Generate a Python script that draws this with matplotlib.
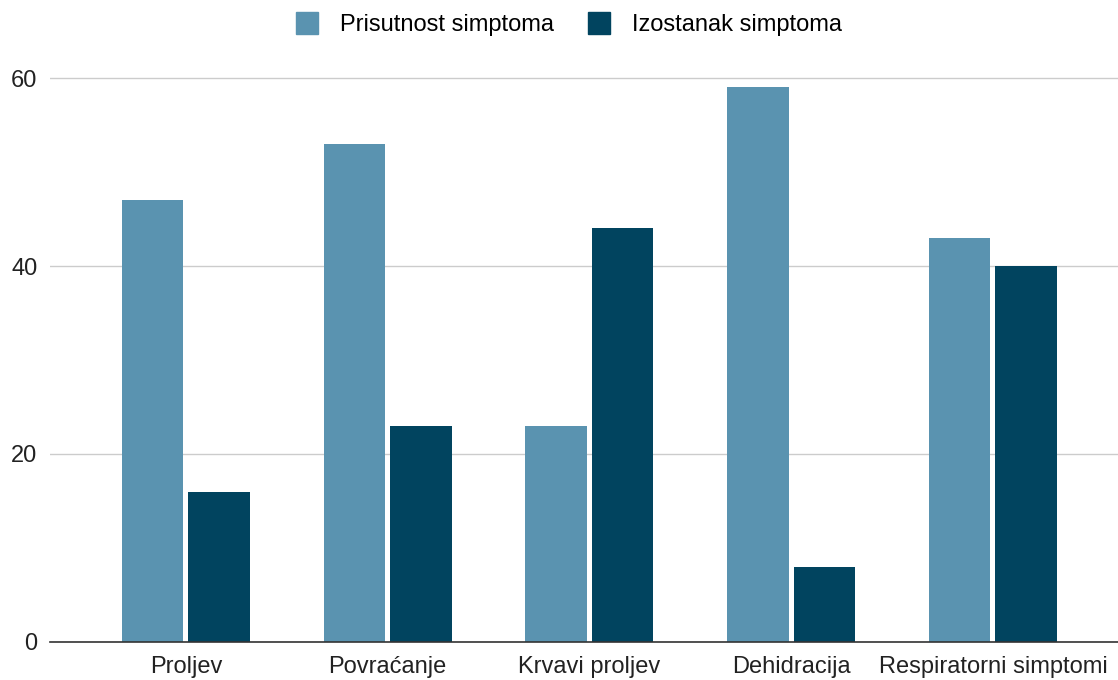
import matplotlib.pyplot as plt
import numpy as np
from matplotlib.lines import Line2D

plt.rcParams['font.family'] = ['Liberation Sans', 'DejaVu Sans']

# data
categories = ['Proljev', 'Povraćanje', 'Krvavi proljev', 'Dehidracija', 'Respiratorni simptomi']
prisutnost = [47, 53, 23, 59, 43]
izostanak = [16, 23, 44, 8, 40]
series_names = ['Prisutnost simptoma', 'Izostanak simptoma']
colors = ['#5a93b0', '#01445f']

fig = plt.figure(figsize=(11.18, 6.8), dpi=100)
ax = fig.add_axes([50 / 1118, 1 - 642 / 680, 1 - 50 / 1118, (642 - 60) / 680])

x = np.arange(len(categories))
w = 0.305
off = 0.165
ax.bar(x - off, prisutnost, w, color=colors[0], zorder=3)
ax.bar(x + off, izostanak, w, color=colors[1], zorder=3)

ax.set_xlim(-0.674, 4.62)
ax.set_ylim(0, 582 / 9.4)
ax.set_yticks([0, 20, 40, 60])
ax.set_xticks(x)
ax.set_xticklabels(categories)
ax.tick_params(axis='both', length=0, labelsize=17, colors='#222222')
ax.tick_params(axis='x', pad=10)
ax.tick_params(axis='y', pad=9)
ax.grid(axis='y', color='#cccccc', linewidth=1, zorder=0)
for s in ['top', 'right', 'left']:
    ax.spines[s].set_visible(False)
ax.spines['bottom'].set_color('#333333')
ax.spines['bottom'].set_linewidth(1.2)
ax.spines['bottom'].set_zorder(4)

handles = [Line2D([], [], marker='s', linestyle='none', markersize=16,
                  markerfacecolor=c, markeredgecolor=c) for c in colors]
fig.legend(handles, series_names, loc='upper center', bbox_to_anchor=(0.503, 1.01),
           ncol=2, frameon=False, fontsize=17, handletextpad=0.4, columnspacing=0.9)

fig.savefig('out.png', dpi=100)
